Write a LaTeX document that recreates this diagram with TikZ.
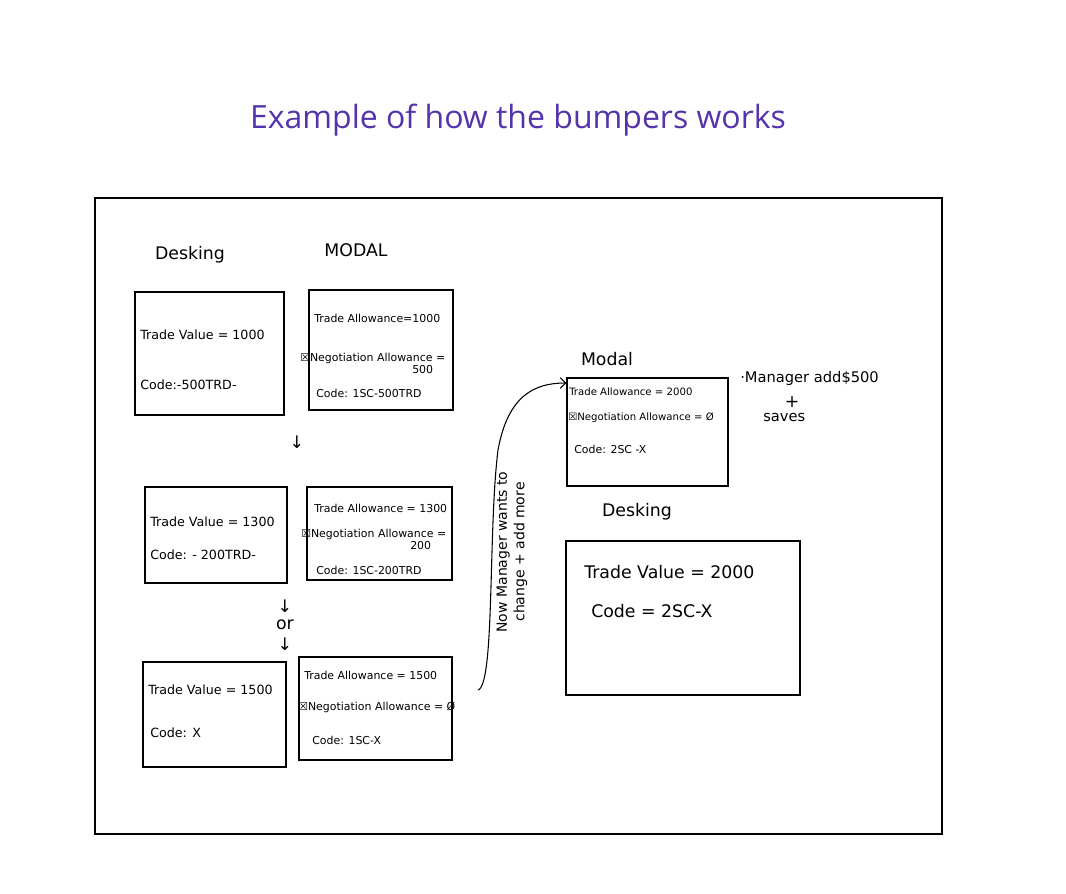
\documentclass[tikz,border=0pt]{standalone}
\usepackage{fontspec}
\usetikzlibrary{arrows.meta}
\setmainfont{DejaVu Sans}
\newfontfamily\titlefont{Open Sans}
\definecolor{ttl}{HTML}{5533AA}
\begin{document}
\begin{tikzpicture}[x=0.75pt,y=-0.75pt,
  box/.style={draw,line width=1pt},
  t/.style={font=\fontsize{9.5}{11}\selectfont,anchor=west,inner sep=0},
  s/.style={font=\fontsize{8.2}{10}\selectfont,anchor=west,inner sep=0},
  hd/.style={font=\fontsize{13}{15}\selectfont,inner sep=0},
  arr/.style={font=\fontsize{13}{14}\selectfont,inner sep=0}]
\useasboundingbox (0,0) rectangle (1066,893);
\node[font=\titlefont\fontsize{24}{28}\selectfont,text=ttl] (title) at (518,120) {Example of how the bumpers works};
\draw[line width=1.5pt] (95,198) rectangle (942,834);
\node[hd] (h1) at (190,255) {Desking};
\node[hd] (h2) at (356,250) {MODAL};
\node[box,minimum width=149*0.75pt,minimum height=123*0.75pt] (b1) at (209.5,353.5) {};
\node[t] at (140,335) {Trade Value = 1000};
\node[t] at (140,385) {Code:-500TRD-};
\node[box,minimum width=144*0.75pt,minimum height=120*0.75pt] (m1) at (381,350) {};
\node[s] at (314,318) {Trade Allowance=1000};
\node[s] at (300,358) {☒Negotiation Allowance =};
\node[s] at (412,370) {500};
\node[s] at (316,393) {Code: 1SC-500TRD};
\node[arr] (a1) at (297,442) {↓};
\node[box,minimum width=142*0.75pt,minimum height=96*0.75pt] (b2) at (216,535) {};
\node[t] at (150,522) {Trade Value = 1300};
\node[t] at (150,555) {Code: - 200TRD-};
\node[box,minimum width=145*0.75pt,minimum height=93*0.75pt] (m2) at (379.5,533.5) {};
\node[s] at (314,508) {Trade Allowance = 1300};
\node[s] at (301,534) {☒Negotiation Allowance =};
\node[s] at (410,546) {200};
\node[s] at (316,570) {Code: 1SC-200TRD};
\node[arr] (a2) at (285,606) {↓};
\node[hd] (or) at (285,625) {or};
\node[arr] (a3) at (285,644) {↓};
\node[box,minimum width=143*0.75pt,minimum height=105*0.75pt] (b3) at (214.5,714.5) {};
\node[t] at (148,690) {Trade Value = 1500};
\node[t] at (150,733) {Code: X};
\node[box,minimum width=153*0.75pt,minimum height=103*0.75pt] (m3) at (375.5,708.5) {};
\node[s] at (304,675) {Trade Allowance = 1500};
\node[s] at (298,707) {☒Negotiation Allowance = Ø};
\node[s] at (312,740) {Code: 1SC-X};
\node[hd] (h3) at (607,359) {Modal};
\node[box,minimum width=161*0.75pt,minimum height=108*0.75pt] (m4) at (647.5,432) {};
\node[s,font=\fontsize{7.6}{9}\selectfont] at (569,392) {Trade Allowance = 2000};
\node[s,font=\fontsize{7.6}{9}\selectfont] at (568,418) {☒Negotiation Allowance = Ø};
\node[s] at (574,449) {Code: 2SC -X};
\node[t,font=\fontsize{11}{13}\selectfont] (mg) at (740,378) {·Manager add\$500};
\node[hd] (pl) at (792,402) {+};
\node[t,font=\fontsize{11}{13}\selectfont] (sv) at (763,417) {saves};
\node[hd] (h4) at (637,512) {Desking};
\node[box,minimum width=234*0.75pt,minimum height=154*0.75pt] (d4) at (683,618) {};
\node[t,font=\fontsize{13}{15}\selectfont] at (584,572) {Trade Value = 2000};
\node[t,font=\fontsize{13}{15}\selectfont] at (591,611) {Code = 2SC-X};
\coordinate (s) at (478,690);
\draw[-{Straight Barb[length=4pt]},line width=0.8pt] (s) .. controls (495,685) and (488,530) .. (498,450) .. controls (508,395) and (535,383) .. (m4.west |- 0,383);
\node[rotate=90,align=center,font=\fontsize{10.5}{13}\selectfont] (nm) at (512,552) {Now Manager wants to\\change + add more};
\end{tikzpicture}
\end{document}
